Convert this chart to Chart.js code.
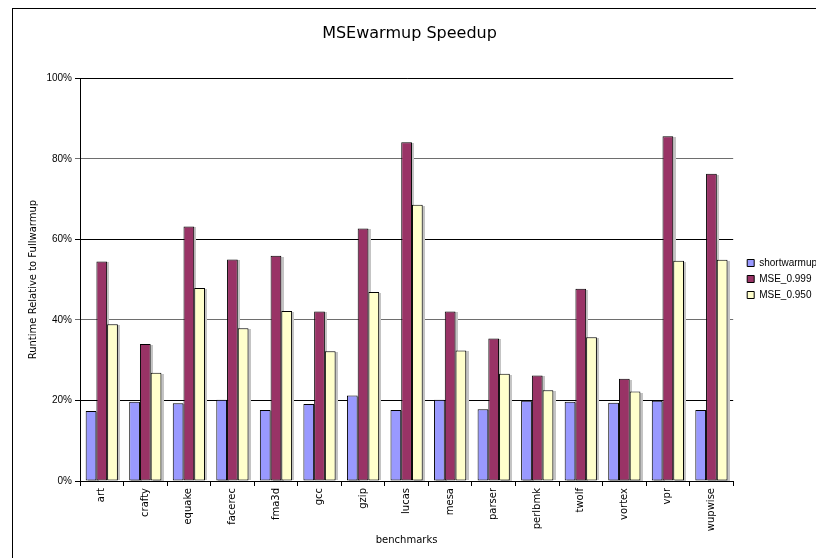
<!DOCTYPE html>
<html>
<head>
<meta charset="utf-8">
<title>MSEwarmup Speedup</title>
<script src="https://cdn.jsdelivr.net/npm/chart.js@4.4.0/dist/chart.umd.min.js"></script>
<style>
  html, body { margin: 0; padding: 0; background: #fff; overflow: hidden; }
  /* sheet frame: only left/top edges fall inside the page */
  #frame { position: absolute; left: 12px; top: 8px; width: 900px; height: 700px; border: 1px solid #000; }
  #wrap { position: absolute; left: 0; top: 0; width: 840px; height: 558px; }
</style>
</head>
<body>
<div id="frame"></div>
<div id="wrap"><canvas id="speedup" width="840" height="558"></canvas></div>
<script>
// --- Data (runtime as % of full warmup) ---
const benchmarks = ['art', 'crafty', 'equake', 'facerec', 'fma3d', 'gcc', 'gzip', 'lucas',
  'mesa', 'parser', 'perlbmk', 'twolf', 'vortex', 'vpr', 'wupwise'];
const shortwarmup = [17.4, 19.7, 19.3, 20.2, 17.6, 19.1, 21.2, 17.6, 20.2, 17.8, 19.9, 19.7, 19.4, 19.9, 17.6];
const mse0999 = [54.5, 34.0, 63.2, 55.0, 55.9, 42.1, 62.7, 84.1, 42.1, 35.4, 26.2, 47.7, 25.4, 85.6, 76.3];
const mse0950 = [38.9, 26.9, 47.9, 37.9, 42.2, 32.2, 46.9, 68.6, 32.4, 26.6, 22.5, 35.7, 22.2, 54.7, 54.9];
const yTicks = [0, 20, 40, 60, 80, 100];

// --- Plugins ---
// light drop shadow behind each bar, taken from the bar elements' own geometry
const barShadow = {
  id: 'barShadow',
  beforeDatasetsDraw(chart) {
    const ctx = chart.ctx;
    ctx.save();
    ctx.fillStyle = '#c4c4c4';
    chart.data.datasets.forEach((ds, i) => {
      chart.getDatasetMeta(i).data.forEach(bar => {
        const left = bar.x - bar.width / 2;
        ctx.fillRect(Math.round(left) + 2, Math.round(bar.y) + 1, Math.round(bar.width), Math.round(bar.base - bar.y) - 1);
      });
    });
    ctx.restore();
  }
};

// push the legend a little away from the plot edge
const legendNudge = {
  id: 'legendNudge',
  afterLayout(chart) {
    const lg = chart.legend;
    if (!lg) return;
    lg.left += 8;
    lg.right += 8;
  }
};

Chart.defaults.font.family = "'DejaVu Sans', sans-serif";
Chart.defaults.font.size = 10;
Chart.defaults.color = '#000';

const ctx = document.getElementById('speedup').getContext('2d');
new Chart(ctx, {
  type: 'bar',
  data: {
    labels: benchmarks,
    datasets: [
      { label: 'shortwarmup', data: shortwarmup, backgroundColor: '#9999FF' },
      { label: 'MSE_0.999', data: mse0999, backgroundColor: '#993366' },
      { label: 'MSE_0.950', data: mse0950, backgroundColor: '#FFFFCC' }
    ]
  },
  options: {
    responsive: false,
    animation: false,
    layout: { padding: { left: 0, right: 21, top: 0, bottom: 0 } },
    datasets: {
      bar: {
        borderColor: '#000',
        borderWidth: 1,
        borderSkipped: false,
        categoryPercentage: 0.74,
        barPercentage: 1.0
      }
    },
    plugins: {
      title: {
        display: true,
        text: 'MSEwarmup Speedup',
        font: { size: 16, weight: 'normal' },
        color: '#000',
        padding: { top: 24, bottom: 35 }
      },
      legend: {
        position: 'right',
        labels: {
          boxWidth: 7,
          boxHeight: 7,
          padding: 6,
          color: '#000',
          font: { family: "'Liberation Sans', Arial, sans-serif", size: 10 }
        }
      },
      tooltip: { enabled: false }
    },
    scales: {
      x: {
        grid: { drawOnChartArea: false, drawTicks: true, tickLength: 5, color: '#000', offset: true },
        border: { color: '#000', width: 1 },
        ticks: { minRotation: 90, maxRotation: 90, padding: 2, autoSkip: false },
        title: { display: true, text: 'benchmarks', padding: { top: 0, bottom: 12 } },
        afterFit(s) { s.height = 77; }
      },
      y: {
        min: 0,
        max: 100,
        afterBuildTicks(s) { s.ticks = yTicks.map(v => ({ value: v })); },
        grid: {
          color: c => (c.index === 2 || c.index === 4) ? '#6e6e6e' : '#000',
          tickLength: 5
        },
        border: { color: '#000', width: 1 },
        ticks: {
          padding: 3,
          font: { family: "'Liberation Sans', Arial, sans-serif", size: 10 },
          callback: v => v + '%'
        },
        title: { display: true, text: 'Runtime Relative to Fullwarmup', padding: { top: 27, bottom: 0 } },
        afterFit(s) { s.width = 80; }
      }
    }
  },
  plugins: [barShadow, legendNudge]
});
</script>
</body>
</html>
